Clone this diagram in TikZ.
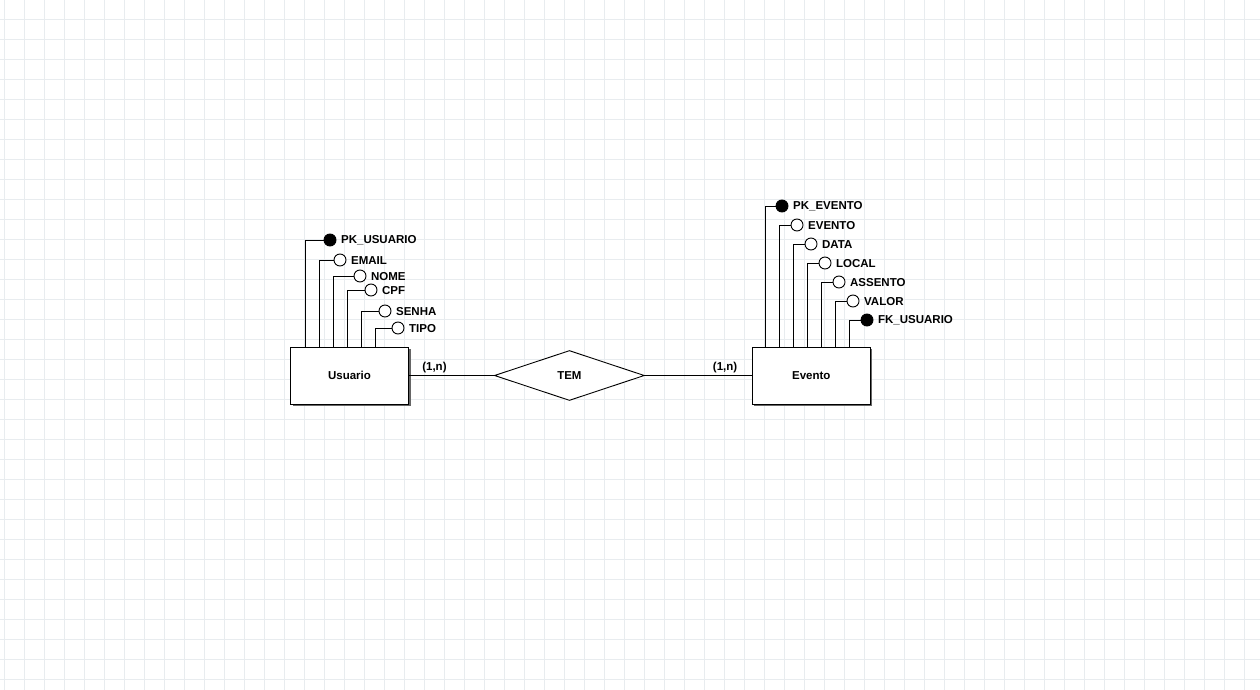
\documentclass[tikz,border=0pt]{standalone}
\usepackage{fontspec}
\setmainfont{Liberation Sans}
\usetikzlibrary{positioning, shapes.geometric, shadows}
\definecolor{gridgray}{HTML}{E8ECEF}

\begin{document}
\begin{tikzpicture}
    [
      x=1pt, y=-1pt,
      font=\fontsize{11.5}{13}\selectfont\bfseries,
      GRID/.style={draw=gridgray, line width=0.8pt},
      ENTITY/.style={rectangle, draw=black, fill=white, line width=0.9pt, minimum width = 118pt, minimum height = 57pt, drop shadow={shadow xshift=2pt, shadow yshift=-2pt, fill=black!60, opacity=1}},
      RELATION/.style={diamond, draw=black, fill=white, line width=0.9pt, minimum width = 150pt, minimum height = 50pt, aspect = 3, inner sep = 0pt},
      ATTR/.style={circle, draw=black, fill=white, line width=0.9pt, minimum size = 12pt, inner sep = 0pt, label={[inner sep=0pt, label distance=4.5pt, yshift=-0.5pt]right:#1}},
      KEYATTR/.style={ATTR=#1, fill=black},
      LINE/.style={draw=black, line width=0.9pt},
      CARD/.style={above, inner sep=2pt},
    ]

    % background grid
    \useasboundingbox (0,0) rectangle (1260,690);
    \fill[white] (0,0) rectangle (1260,690);
    \foreach \gx in {4,24,...,1260} \draw[GRID] (\gx,0) -- (\gx,690);
    \foreach \gy in {19,39,...,690} \draw[GRID] (0,\gy) -- (1260,\gy);

    \node[ENTITY] (usuario) at (349.5, 375.5) {Usuario};
    \node[RELATION] (tem) [right = 85pt of usuario] {TEM};
    \node[ENTITY] (evento) [right = 107pt of tem] {Evento};

    \draw[LINE] (usuario) to node[CARD, pos=0.3] {(1,n)} (tem);
    \draw[LINE] (tem) to node[CARD, pos=0.75] {(1,n)} (evento);

    % Usuario attributes
    \node[KEYATTR=PK\_USUARIO] (pkUsuario) at (330, 240) {};
    \node[ATTR=EMAIL] (email) at (340, 260) {};
    \node[ATTR=NOME] (nome) at (360, 276) {};
    \node[ATTR=CPF] (cpf) at (371, 290) {};
    \node[ATTR=SENHA] (senha) at (385, 311) {};
    \node[ATTR=TIPO] (tipo) at (398, 328) {};

    \draw[LINE] (usuario.north west) + (15, 0) |- (pkUsuario.west);
    \draw[LINE] (usuario.north west) + (29, 0) |- (email.west);
    \draw[LINE] (usuario.north west) + (43, 0) |- (nome.west);
    \draw[LINE] (usuario.north west) + (57, 0) |- (cpf.west);
    \draw[LINE] (usuario.north west) + (71, 0) |- (senha.west);
    \draw[LINE] (usuario.north west) + (85, 0) |- (tipo.west);

    % Evento attributes
    \node[KEYATTR=PK\_EVENTO] (pkEvento) at (782, 206) {};
    \node[ATTR=EVENTO] (nomeEvento) at (797, 225) {};
    \node[ATTR=DATA] (data) at (811, 244) {};
    \node[ATTR=LOCAL] (local) at (825, 263) {};
    \node[ATTR=ASSENTO] (assento) at (839, 282) {};
    \node[ATTR=VALOR] (valor) at (853, 301) {};
    \node[KEYATTR=FK\_USUARIO] (fkUsuario) at (867, 320) {};

    \draw[LINE] (evento.north west) + (14, 0) |- (pkEvento.west);
    \draw[LINE] (evento.north west) + (28, 0) |- (nomeEvento.west);
    \draw[LINE] (evento.north west) + (42, 0) |- (data.west);
    \draw[LINE] (evento.north west) + (56, 0) |- (local.west);
    \draw[LINE] (evento.north west) + (70, 0) |- (assento.west);
    \draw[LINE] (evento.north west) + (84, 0) |- (valor.west);
    \draw[LINE] (evento.north west) + (98, 0) |- (fkUsuario.west);

  \end{tikzpicture}
\end{document}
